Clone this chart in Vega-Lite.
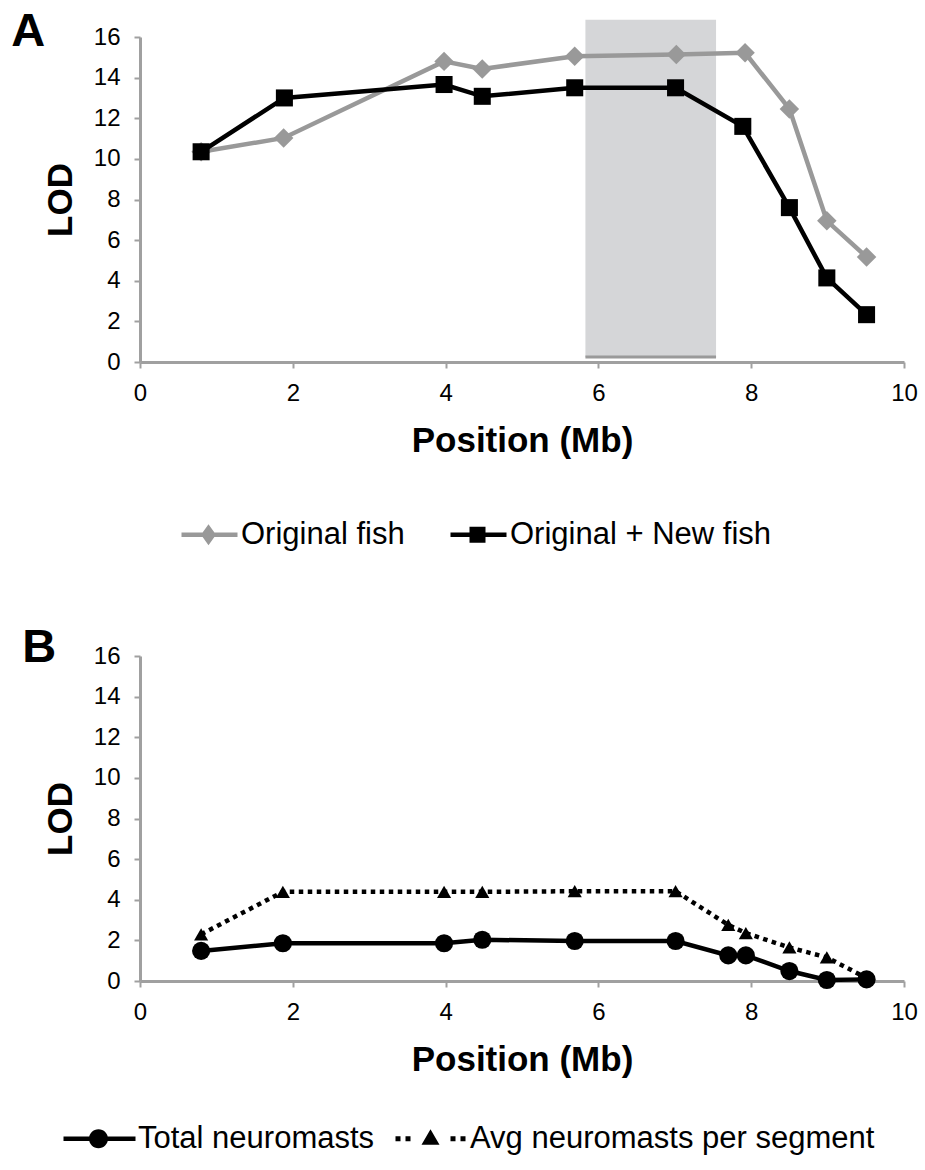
{
  "$schema": "https://vega.github.io/schema/vega-lite/v6.json",
  "background": "white",
  "padding": {"left": 11, "top": 7, "right": 5, "bottom": 5},
  "spacing": 74,
  "config": {
    "font": "Liberation Sans",
    "view": {"stroke": null},
    "axis": {
      "grid": false,
      "domainColor": "#a0a0a0",
      "domainWidth": 3,
      "tickColor": "#a0a0a0",
      "tickWidth": 2,
      "tickSize": 6,
      "labelFontSize": 24,
      "labelColor": "#000000",
      "labelFont": "Liberation Sans",
      "titleFont": "Liberation Sans",
      "titleFontSize": 35,
      "titleFontWeight": "bold",
      "titleColor": "#000000",
      "format": "d"
    },
    "axisX": {"labelPadding": 13, "titlePadding": 18, "labelFlush": false},
    "axisY": {"labelPadding": 14, "titlePadding": 15}
  },
  "resolve": {"scale": {"color": "independent"}, "legend": {"color": "independent"}},
  "vconcat": [
    {
      "title": {"text": "A", "anchor": "start", "frame": "bounds", "fontSize": 47, "fontWeight": "bold", "font": "Liberation Sans", "color": "#000000", "offset": 0, "dy": 73, "dx": -32, "baseline": "alphabetic"},
      "width": 764,
      "height": 325,
      "data": {"values": [
        {"series": "Original fish", "pos": 0.8, "lod": 10.35},
        {"series": "Original fish", "pos": 1.88, "lod": 11.03},
        {"series": "Original fish", "pos": 3.98, "lod": 14.8},
        {"series": "Original fish", "pos": 4.48, "lod": 14.43},
        {"series": "Original fish", "pos": 5.69, "lod": 15.05},
        {"series": "Original fish", "pos": 7.02, "lod": 15.14},
        {"series": "Original fish", "pos": 7.92, "lod": 15.22},
        {"series": "Original fish", "pos": 8.5, "lod": 12.46},
        {"series": "Original fish", "pos": 8.99, "lod": 6.95},
        {"series": "Original fish", "pos": 9.51, "lod": 5.17},
        {"series": "Original + New fish", "pos": 0.8, "lod": 10.35},
        {"series": "Original + New fish", "pos": 1.89, "lod": 13.0},
        {"series": "Original + New fish", "pos": 3.98, "lod": 13.66},
        {"series": "Original + New fish", "pos": 4.48, "lod": 13.08},
        {"series": "Original + New fish", "pos": 5.69, "lod": 13.5},
        {"series": "Original + New fish", "pos": 7.01, "lod": 13.5},
        {"series": "Original + New fish", "pos": 7.89, "lod": 11.6},
        {"series": "Original + New fish", "pos": 8.5, "lod": 7.6},
        {"series": "Original + New fish", "pos": 8.99, "lod": 4.14},
        {"series": "Original + New fish", "pos": 9.51, "lod": 2.33}
      ]},
      "layer": [
        {
          "data": {"values": [{"pos": 5.83, "pos2": 7.54, "lod": 0.25, "lod2": 16.85}]},
          "mark": {"type": "rect", "color": "#d5d6d8"},
          "encoding": {
            "x": {"field": "pos", "type": "quantitative", "title": "Position (Mb)", "scale": {"domain": [0, 10], "nice": false}, "axis": {"values": [0, 2, 4, 6, 8, 10]}},
            "x2": {"field": "pos2", "title": "Position (Mb)"},
            "y": {"field": "lod", "type": "quantitative", "title": "LOD", "scale": {"domain": [0, 16], "nice": false}, "axis": {"values": [0, 2, 4, 6, 8, 10, 12, 14, 16]}},
            "y2": {"field": "lod2", "title": "LOD"}
          }
        },
        {
          "data": {"values": [{"pos": 5.83, "pos2": 7.54, "lod": 0.25, "lod2": 16.85}]},
          "mark": {"type": "rule", "color": "#9a9a9a", "strokeWidth": 3},
          "encoding": {
            "x": {"field": "pos", "type": "quantitative", "title": "Position (Mb)"},
            "x2": {"field": "pos2", "title": "Position (Mb)"},
            "y": {"field": "lod", "type": "quantitative", "title": "LOD"}
          }
        },
        {
          "transform": [{"filter": "datum.series === 'Original fish'"}],
          "mark": {"type": "line", "strokeWidth": 4.5},
          "encoding": {
            "x": {"field": "pos", "type": "quantitative", "title": "Position (Mb)"},
            "y": {"field": "lod", "type": "quantitative", "title": "LOD"},
            "color": {
              "field": "series", "type": "nominal",
              "scale": {"domain": ["Original fish", "Original + New fish"], "range": ["#999999", "#000000"]},
              "legend": {
                "orient": "none", "legendX": 36, "legendY": 482, "direction": "horizontal", "title": null, "padding": 0,
                "labelFontSize": 31, "labelColor": "#000000", "labelFont": "Liberation Sans", "labelLimit": 0,
                "symbolSize": 400, "labelOffset": 34, "columnPadding": 40,
                "encode": {"symbols": {"update": {
                  "shape": {"signal": "datum.value === 'Original fish' ? 'M-1,-0.22H4.6V0.22H-1Z M1.7,-1.05L2.45,0L1.7,1.05L0.95,0Z' : 'M-1,-0.22H4.6V0.22H-1Z M0.9,-0.8H2.5V0.8H0.9Z'"},
                  "fill": {"signal": "datum.value === 'Original fish' ? '#999999' : '#000000'"},
                  "stroke": {"value": "transparent"},
                  "strokeWidth": {"value": 0},
                  "opacity": {"value": 1},
                  "size": {"value": 400}
                }}}
              }
            }
          }
        },
        {
          "transform": [{"filter": "datum.series === 'Original fish'"}],
          "mark": {"type": "point", "shape": "diamond", "filled": true, "size": 380, "color": "#999999", "opacity": 1},
          "encoding": {
            "x": {"field": "pos", "type": "quantitative", "title": "Position (Mb)"},
            "y": {"field": "lod", "type": "quantitative", "title": "LOD"}
          }
        },
        {
          "transform": [{"filter": "datum.series === 'Original + New fish'"}],
          "mark": {"type": "line", "strokeWidth": 4.5},
          "encoding": {
            "x": {"field": "pos", "type": "quantitative", "title": "Position (Mb)"},
            "y": {"field": "lod", "type": "quantitative", "title": "LOD"},
            "color": {"field": "series", "type": "nominal"}
          }
        },
        {
          "transform": [{"filter": "datum.series === 'Original + New fish'"}],
          "mark": {"type": "point", "shape": "square", "filled": true, "size": 290, "color": "#000000", "opacity": 1},
          "encoding": {
            "x": {"field": "pos", "type": "quantitative", "title": "Position (Mb)"},
            "y": {"field": "lod", "type": "quantitative", "title": "LOD"}
          }
        }
      ]
    },
    {
      "title": {"text": "B", "anchor": "start", "frame": "bounds", "fontSize": 47, "fontWeight": "bold", "font": "Liberation Sans", "color": "#000000", "offset": 0, "dy": 65, "dx": -21, "baseline": "alphabetic"},
      "width": 764,
      "height": 325,
      "data": {"values": [
        {"series": "Total neuromasts", "pos": 0.8, "lod": 1.48},
        {"series": "Total neuromasts", "pos": 1.87, "lod": 1.86},
        {"series": "Total neuromasts", "pos": 3.98, "lod": 1.86},
        {"series": "Total neuromasts", "pos": 4.48, "lod": 2.03},
        {"series": "Total neuromasts", "pos": 5.69, "lod": 1.97},
        {"series": "Total neuromasts", "pos": 7.01, "lod": 1.97},
        {"series": "Total neuromasts", "pos": 7.7, "lod": 1.26},
        {"series": "Total neuromasts", "pos": 7.93, "lod": 1.26},
        {"series": "Total neuromasts", "pos": 8.5, "lod": 0.49},
        {"series": "Total neuromasts", "pos": 8.99, "lod": 0.05},
        {"series": "Total neuromasts", "pos": 9.51, "lod": 0.08},
        {"series": "Avg neuromasts per segment", "pos": 0.8, "lod": 2.3},
        {"series": "Avg neuromasts per segment", "pos": 1.87, "lod": 4.39},
        {"series": "Avg neuromasts per segment", "pos": 3.98, "lod": 4.39},
        {"series": "Avg neuromasts per segment", "pos": 4.48, "lod": 4.39},
        {"series": "Avg neuromasts per segment", "pos": 5.69, "lod": 4.42},
        {"series": "Avg neuromasts per segment", "pos": 7.01, "lod": 4.42},
        {"series": "Avg neuromasts per segment", "pos": 7.7, "lod": 2.76},
        {"series": "Avg neuromasts per segment", "pos": 7.93, "lod": 2.36},
        {"series": "Avg neuromasts per segment", "pos": 8.5, "lod": 1.65},
        {"series": "Avg neuromasts per segment", "pos": 8.99, "lod": 1.16},
        {"series": "Avg neuromasts per segment", "pos": 9.51, "lod": 0.15}
      ]},
      "layer": [
        {
          "transform": [{"filter": "datum.series === 'Avg neuromasts per segment'"}],
          "mark": {"type": "line", "strokeWidth": 4.5, "strokeCap": "butt", "strokeDash": [4.5, 4.5]},
          "encoding": {
            "x": {"field": "pos", "type": "quantitative", "title": "Position (Mb)", "scale": {"domain": [0, 10], "nice": false}, "axis": {"values": [0, 2, 4, 6, 8, 10]}},
            "y": {"field": "lod", "type": "quantitative", "title": "LOD", "scale": {"domain": [0, 16], "nice": false}, "axis": {"values": [0, 2, 4, 6, 8, 10, 12, 14, 16]}},
            "color": {
              "field": "series", "type": "nominal",
              "scale": {"domain": ["Total neuromasts", "Avg neuromasts per segment"], "range": ["#000000", "#000000"]},
              "legend": {
                "orient": "none", "legendX": -82, "legendY": 467, "direction": "horizontal", "title": null, "padding": 0,
                "labelFontSize": 31, "labelColor": "#000000", "labelFont": "Liberation Sans", "labelLimit": 0,
                "symbolSize": 400, "labelOffset": 49, "columnPadding": 15,
                "encode": {"symbols": {"update": {
                  "shape": {"signal": "datum.value === 'Total neuromasts' ? 'M-1,-0.22H6.2V0.22H-1Z M2.5,-0.95A0.95,0.95 0 1,1 2.5,0.95A0.95,0.95 0 1,1 2.5,-0.95Z' : 'M-1,-0.25H-0.5V0.25H-1Z M0,-0.25H0.5V0.25H0Z M2.5,-0.95L3.4,0.6L1.6,0.6Z M4.5,-0.25H5V0.25H4.5Z M5.5,-0.25H6V0.25H5.5Z'"},
                  "fill": {"value": "#000000"},
                  "stroke": {"value": "transparent"},
                  "strokeWidth": {"value": 0},
                  "opacity": {"value": 1},
                  "size": {"value": 400}
                }}}
              }
            }
          }
        },
        {
          "transform": [{"filter": "datum.series === 'Avg neuromasts per segment'"}],
          "mark": {"type": "point", "shape": "triangle-up", "filled": true, "size": 200, "color": "#000000", "opacity": 1},
          "encoding": {
            "x": {"field": "pos", "type": "quantitative", "title": "Position (Mb)"},
            "y": {"field": "lod", "type": "quantitative", "title": "LOD"}
          }
        },
        {
          "transform": [{"filter": "datum.series === 'Total neuromasts'"}],
          "mark": {"type": "line", "strokeWidth": 4.5},
          "encoding": {
            "x": {"field": "pos", "type": "quantitative", "title": "Position (Mb)"},
            "y": {"field": "lod", "type": "quantitative", "title": "LOD"},
            "color": {"field": "series", "type": "nominal"}
          }
        },
        {
          "transform": [{"filter": "datum.series === 'Total neuromasts'"}],
          "mark": {"type": "point", "shape": "circle", "filled": true, "size": 330, "color": "#000000", "opacity": 1},
          "encoding": {
            "x": {"field": "pos", "type": "quantitative", "title": "Position (Mb)"},
            "y": {"field": "lod", "type": "quantitative", "title": "LOD"}
          }
        }
      ]
    }
  ]
}
